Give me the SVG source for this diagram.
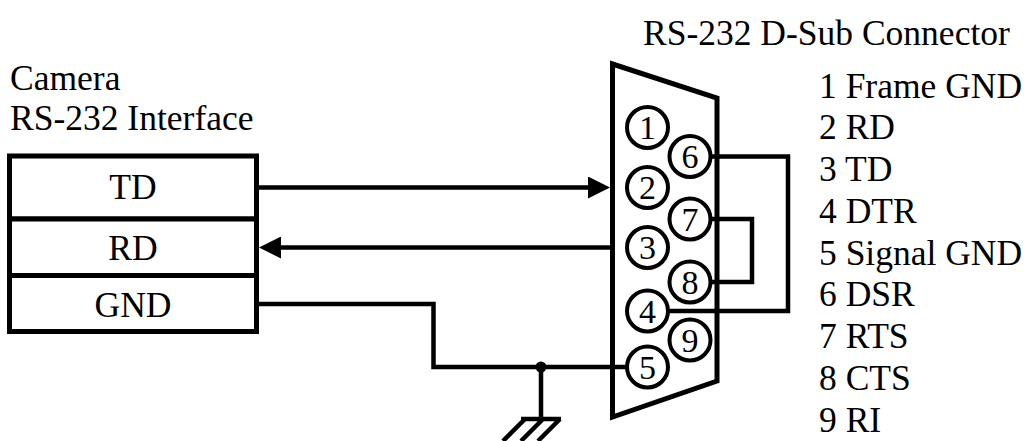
<svg xmlns="http://www.w3.org/2000/svg" width="1031" height="441" viewBox="0 0 1031 441">
<style>
text{font-family:"Liberation Serif","Times New Roman",serif;font-size:35.5px;fill:#000}
.c{text-anchor:middle}
.box{fill:#fff;stroke:#000;stroke-width:5}
.w{fill:none;stroke:#000;stroke-width:4.5;stroke-linejoin:miter}
.pin{fill:#fff;stroke:#000;stroke-width:4}
.d{font-size:34px}
</style>
<defs>
<marker id="ah" markerUnits="userSpaceOnUse" markerWidth="22" markerHeight="22" refX="7" refY="11" orient="auto">
<path d="M0,0 L22,11 L0,22 z" fill="#000"/>
</marker>
</defs>
<rect width="1031" height="441" fill="#fff"/>
<g id="title-connector"><text x="643" y="45">RS-232 D-Sub Connector</text></g>
<g id="title-camera"><text x="10" y="90">Camera</text><text x="10" y="130">RS-232 Interface</text></g>
<g id="camera-interface">
<rect class="box" x="9.5" y="156" width="247" height="63"/>
<rect class="box" x="9.5" y="219" width="247" height="56.5"/>
<rect class="box" x="9.5" y="275.5" width="247" height="56"/>
<text class="c" x="133" y="199">TD</text>
<text class="c" x="133" y="260">RD</text>
<text class="c" x="133" y="317">GND</text>
</g>
<g id="connectors">
<path class="w" d="M256.7,187.5 H595" marker-end="url(#ah)"/>
<path class="w" d="M612,247.5 H274" marker-end="url(#ah)"/>
<path class="w" d="M256.7,304 H433.5 V367 H626"/>
<circle cx="541" cy="367" r="5.5" fill="#000"/>
<path class="w" d="M541,367 V419"/>
<path class="w" d="M521,419 H561 M525,419 L503,441 M543,419 L521,441 M560,419 L538,441"/>
</g>
<g id="dsub">
<path d="M612.5,64 L717,98 L717,381 L612.5,417 Z" fill="#fff" stroke="#000" stroke-width="5"/>
</g>
<g id="loopbacks">
<path class="w" d="M710,156.5 H788 V311 H668"/>
<path class="w" d="M710,219 H752 V282 H710"/>
<path class="w" d="M612,367 H626"/>
</g>
<g id="pins">
<g id="pin1"><circle class="pin" cx="647.5" cy="127.5" r="20.5"/><text class="c d" x="647.5" y="139">1</text></g>
<g id="pin6"><circle class="pin" cx="690" cy="156.5" r="20.5"/><text class="c d" x="690" y="168">6</text></g>
<g id="pin2"><circle class="pin" cx="647.5" cy="187.5" r="20.5"/><text class="c d" x="647.5" y="199">2</text></g>
<g id="pin7"><circle class="pin" cx="690" cy="219" r="20.5"/><text class="c d" x="690" y="230.5">7</text></g>
<g id="pin3"><circle class="pin" cx="647.5" cy="247.5" r="20.5"/><text class="c d" x="647.5" y="259">3</text></g>
<g id="pin8"><circle class="pin" cx="690" cy="282" r="20.5"/><text class="c d" x="690" y="293.5">8</text></g>
<g id="pin4"><circle class="pin" cx="647.5" cy="311" r="20.5"/><text class="c d" x="647.5" y="322.5">4</text></g>
<g id="pin9"><circle class="pin" cx="690" cy="340" r="20.5"/><text class="c d" x="690" y="351.5">9</text></g>
<g id="pin5"><circle class="pin" cx="647.5" cy="367" r="20.5"/><text class="c d" x="647.5" y="378.5">5</text></g>
</g>
<g id="pin-list">
<text x="819" y="97.5">1 Frame GND</text>
<text x="819" y="139.3">2 RD</text>
<text x="819" y="181">3 TD</text>
<text x="819" y="222.8">4 DTR</text>
<text x="819" y="264.5">5 Signal GND</text>
<text x="819" y="306.3">6 DSR</text>
<text x="819" y="348">7 RTS</text>
<text x="819" y="389.8">8 CTS</text>
<text x="819" y="431.5">9 RI</text>
</g>
</svg>
